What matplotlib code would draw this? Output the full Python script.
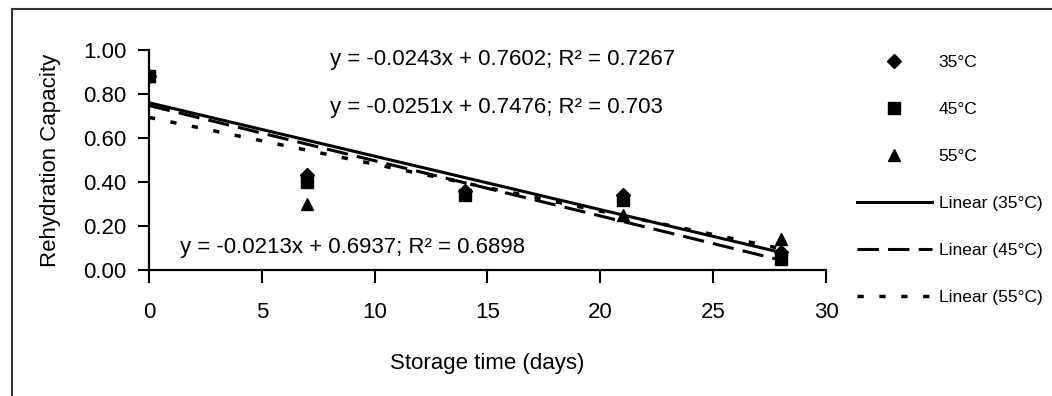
import matplotlib
matplotlib.use("Agg")
import matplotlib.pyplot as plt
import numpy as np
from matplotlib.lines import Line2D

plt.rcParams['font.family'] = ['Liberation Sans', 'DejaVu Sans']

# Data
days = np.array([0, 7, 14, 21, 28])
rc_35 = [0.88, 0.43, 0.36, 0.34, 0.08]
rc_45 = [0.88, 0.40, 0.34, 0.32, 0.05]
rc_55 = [0.88, 0.30, 0.35, 0.25, 0.14]

temps = ["35°C", "45°C", "55°C"]
slopes = [-0.0243, -0.0251, -0.0213]
intercepts = [0.7602, 0.7476, 0.6937]
r2_vals = ["0.7267", "0.703", "0.6898"]

x_ticks = [0, 5, 10, 15, 20, 25, 30]
y_ticks = [0.0, 0.2, 0.4, 0.6, 0.8, 1.0]

fig = plt.figure(figsize=(10.52, 3.96), dpi=100)
ax = fig.add_axes([0.1416, 0.3182, 0.6436, 0.5556])

# Points
ax.plot(days, rc_35, linestyle="none", marker="D", ms=7, color="black", label=temps[0])
ax.plot(days, rc_45, linestyle="none", marker="s", ms=8.5, color="black", label=temps[1])
ax.plot(days, rc_55, linestyle="none", marker="^", ms=9, color="black", label=temps[2])

# Trend lines
styles = [dict(linestyle="-"),
          dict(linestyle=(0, (7, 3))),
          dict(linestyle=(0, (1.8, 4.5)))]
lws = [2.2, 2.2, 2.5]
for i in range(3):
    yy = intercepts[i] + slopes[i] * days
    ax.plot(days, yy, color="black", lw=lws[i], label=f"Linear ({temps[i]})", **styles[i])

# Equation labels
eq_pos = [(8.0, 0.955), (8.0, 0.74), (1.37, 0.10)]
for i in range(3):
    txt = f"y = {slopes[i]:.4f}x + {intercepts[i]:.4f}; R² = {r2_vals[i]}"
    ax.text(eq_pos[i][0], eq_pos[i][1], txt, fontsize=16, ha="left", va="center")

ax.set_xlim(0, 30)
ax.set_ylim(0, 1.0)
ax.set_xticks(x_ticks)
ax.set_yticks(y_ticks)
ax.set_yticklabels([f"{v:.2f}" for v in y_ticks])
ax.tick_params(axis="x", direction="out", length=9, width=1.5, pad=14, labelsize=16)
ax.tick_params(axis="y", direction="out", length=8, width=1.5, pad=8, labelsize=16)
ax.spines["top"].set_visible(False)
ax.spines["right"].set_visible(False)
ax.spines["left"].set_linewidth(1.6)
ax.spines["bottom"].set_linewidth(1.6)
ax.set_xlabel("Storage time (days)", fontsize=16, labelpad=22)
ax.set_ylabel("Rehydration Capacity", fontsize=16, labelpad=16)

ax.legend(loc="upper left", bbox_to_anchor=(0.808, 0.88), bbox_transform=fig.transFigure,
          frameon=False, fontsize=12.5, handlelength=4.3, labelspacing=1.84,
          handletextpad=0.4, borderaxespad=0)

# Frame around the figure
fig.add_artist(Line2D([0.0114, 1.0], [0.977, 0.977], transform=fig.transFigure, color="#333333", lw=1.5))
fig.add_artist(Line2D([0.0114, 0.0114], [0.0, 0.977], transform=fig.transFigure, color="#333333", lw=1.5))

fig.savefig("out.png", dpi=100)
